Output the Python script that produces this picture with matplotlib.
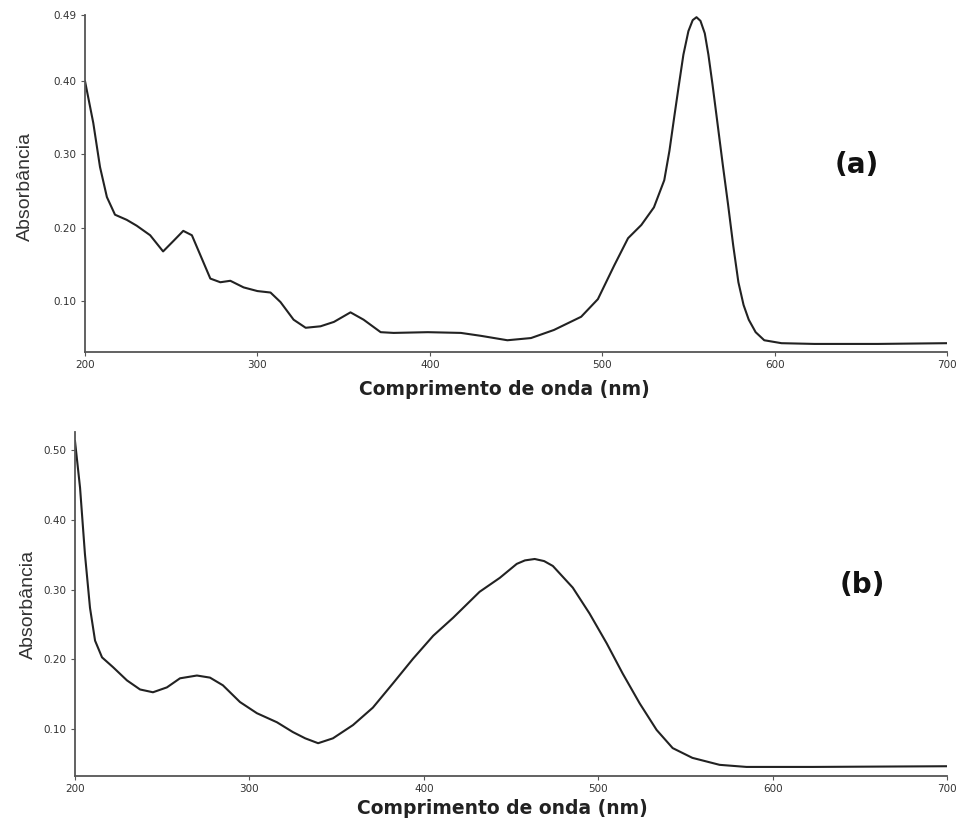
import matplotlib
matplotlib.use("Agg")
import matplotlib.pyplot as plt

# (a) spectrum
wl_a = [200, 204.8, 208.7, 212.7, 217.4, 224.2, 230, 237.8, 245.3, 251.2, 257, 262,
        266.9, 272.7, 278.5, 284.3, 292, 300, 307.6, 313.4, 321, 328, 336.6, 344.4,
        354, 361.6, 371.5, 379, 398.8, 418, 429.7, 445, 458.7, 472, 487.8, 497.5,
        507, 515, 522.7, 530, 536, 539, 541.9, 544.5, 547.1, 550, 552.5, 554.7, 557,
        559.5, 561.6, 564, 566.3, 570, 573, 576, 579, 582, 585, 589, 594, 604, 623, 660, 700]
abs_a = [0.400, 0.343, 0.283, 0.242, 0.218, 0.211, 0.203, 0.190, 0.168, 0.182, 0.196, 0.190,
         0.163, 0.131, 0.126, 0.128, 0.119, 0.114, 0.112, 0.099, 0.075, 0.064, 0.066, 0.072,
         0.085, 0.075, 0.058, 0.057, 0.058, 0.057, 0.053, 0.047, 0.050, 0.061, 0.079, 0.103,
         0.149, 0.186, 0.204, 0.228, 0.265, 0.305, 0.353, 0.395, 0.436, 0.468, 0.483, 0.487, 0.482,
         0.465, 0.436, 0.395, 0.353, 0.285, 0.232, 0.176, 0.126, 0.095, 0.075, 0.058, 0.047,
         0.043, 0.042, 0.042, 0.043]

# (b) spectrum
wl_b = [200, 202.9, 205.7, 208.6, 211.5, 215.5, 221.8, 229.8, 237.3, 244.7, 252.7, 260.2,
        269.9, 277.4, 284.8, 294.6, 304.3, 315.8, 324.9, 332, 339.4, 347.9, 359.4, 370.8, 382.4,
        393.8, 405.4, 416.9, 432, 443.6, 453.3, 458, 463.6, 469, 474, 485.4, 495, 504.9, 514,
        523.8, 533.5, 542.7, 554, 569.6, 585, 623, 700]
abs_b = [0.513, 0.446, 0.351, 0.274, 0.227, 0.203, 0.189, 0.170, 0.157, 0.153, 0.160, 0.173,
         0.177, 0.174, 0.163, 0.139, 0.123, 0.110, 0.096, 0.087, 0.080, 0.087, 0.106, 0.131, 0.166,
         0.201, 0.234, 0.260, 0.297, 0.317, 0.337, 0.342, 0.344, 0.341, 0.334, 0.303, 0.266, 0.223,
         0.180, 0.137, 0.099, 0.073, 0.059, 0.049, 0.046, 0.046, 0.047]

x_ticks = [200, 300, 400, 500, 600, 700]
y_ticks_a = [0.10, 0.20, 0.30, 0.40, 0.49]
y_ticks_b = [0.10, 0.20, 0.30, 0.40, 0.50]

W, H = 963, 825
fig = plt.figure(figsize=(W / 100, H / 100), dpi=100)


def px_axes(left, top, right, bottom):
    return fig.add_axes([left / W, 1 - bottom / H, (right - left) / W, (bottom - top) / H])


def style(ax, yticks, ylim):
    ax.set_xlim(200, 700)
    ax.set_ylim(*ylim)
    ax.set_xticks(x_ticks)
    ax.set_yticks(yticks)
    ax.set_yticklabels([f"{v:.2f}" for v in yticks])
    for s in ["top", "right"]:
        ax.spines[s].set_visible(False)
    for s in ["left", "bottom"]:
        ax.spines[s].set_color("#555555")
        ax.spines[s].set_linewidth(1.3)
    ax.tick_params(axis="both", length=3, width=0.8, color="#555555",
                   labelsize=7.5, labelcolor="#333333", pad=3)


def ftext(x, y, s, **kw):
    fig.text(x / W, 1 - y / H, s, ha="center", va="center", **kw)


# top panel (a)
ax1 = px_axes(85, 15, 947, 352)
ax1.plot(wl_a, abs_a, color="#222222", lw=1.5)
style(ax1, y_ticks_a, (0.031, 0.49))

# bottom panel (b)
ax2 = px_axes(75, 432, 947, 776)
ax2.plot(wl_b, abs_b, color="#222222", lw=1.5)
style(ax2, y_ticks_b, (0.033, 0.526))

xlab = dict(fontsize=13.5, fontweight="bold", family="DejaVu Sans", color="#222222")
ylab = dict(fontsize=14, family="Liberation Sans", color="#333333", rotation=90)
tag = dict(fontsize=20, fontweight="bold", family="DejaVu Sans", color="#111111")

ftext(504, 390, "Comprimento de onda (nm)", **xlab)
ftext(502, 809, "Comprimento de onda (nm)", **xlab)
ftext(25, 186, "Absorbância", **ylab)
ftext(28, 604, "Absorbância", **ylab)
ftext(857, 165, "(a)", **tag)
ftext(862, 585, "(b)", **tag)

fig.savefig("out.png", dpi=100, facecolor="white")
